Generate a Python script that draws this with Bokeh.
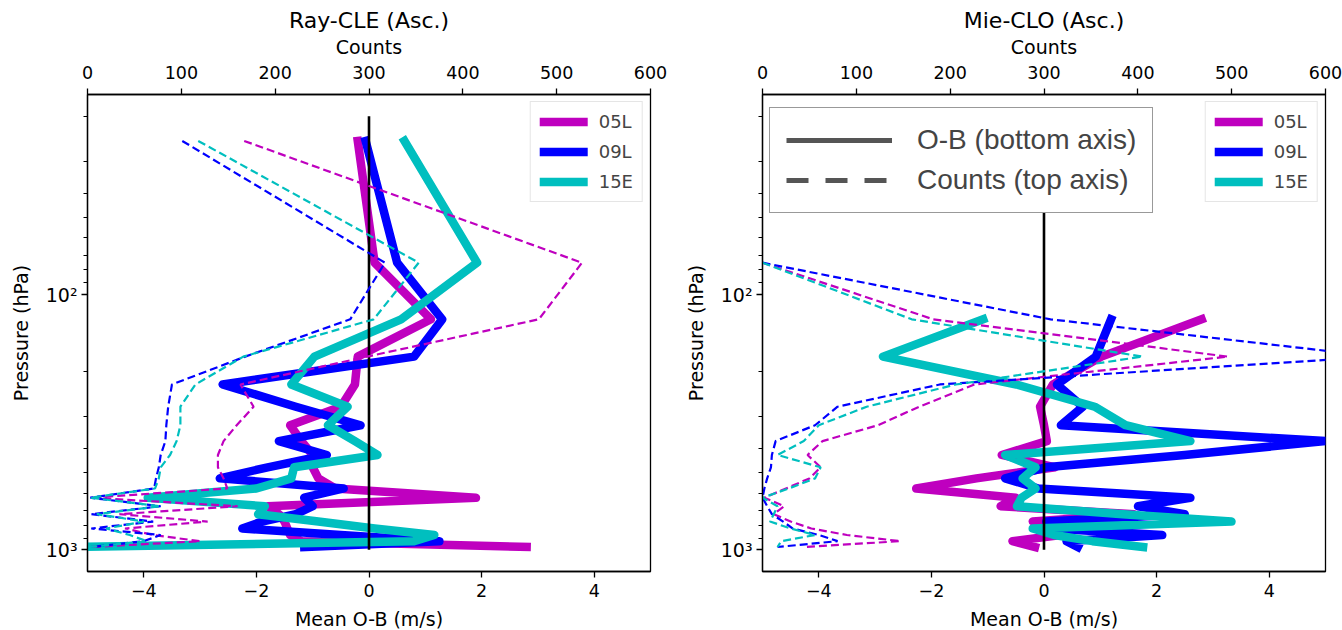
import math
from bokeh.plotting import figure
from bokeh.models import Range1d, LinearAxis, FixedTicker, Legend, LegendItem
from bokeh.layouts import row
from bokeh.embed import file_html
from bokeh.resources import INLINE

nan = float("nan")

# Pressure bin centres (hPa)
levels = [25, 75, 125, 175, 225, 275, 325, 375, 425, 475,
          525, 575, 625, 675, 725, 775, 825, 875, 925, 975]

storms = ["05L", "09L", "15E"]
storm_colors = ["#bf00bf", "#0000ff", "#00bfbf"]

# Ray-CLE (ascending): mean O-B (m/s) per level
ray_ob_05L = [-0.2, 0.1, 1.1, -0.2, -0.25, -0.5, -1.4, -1.2, -1.0, -1.0,
              -0.9, -0.6, 1.9, -1.8, -1.6, -1.5, -1.45, -1.4, -1.2, 2.8]
ray_ob_09L = [-0.06, 0.5, 1.3, 0.8, -2.6, -1.3, -0.15, -1.6, -0.75, -1.8,
              -2.65, -0.45, -1.15, -1.0, -1.3, -1.9, -2.25, -0.5, 1.25, -1.15]
ray_ob_15E = [0.63, 1.92, 0.57, -0.97, -1.38, -0.38, -0.73, -0.25, 0.15, -1.33,
              -1.38, -2.0, -3.93, -1.85, -1.97, -0.9, 0.1, 1.16, 0.8, -5.2]

# Ray-CLE (ascending): counts per level
ray_n_05L = [167, 527, 481, 298, 163, 177, 159, 145, 139, 139,
             145, 149, 3, 160, 34, 128, 40, 70, 120, 5]
ray_n_09L = [101, 317, 280, 168, 90, 86, 84, 83, 78, 76,
             73, 71, 3, 78, 4, 70, 4, 78, 60, 4]
ray_n_15E = [118, 353, 305, 166, 115, 99, 99, 95, 88, 78,
             76, 72, 3, 78, 10, 60, 20, 45, 63, 3]

# Mie-CLO (ascending): mean O-B (m/s) per level
mie_ob_05L = [nan, nan, 2.8, 1.02, 0.16, -0.07, 0.0, 0.05, -0.75, 0.2,
              -1.2, -2.27, -0.5, -0.77, 1.6, -0.2, 0.2, 0.3, -0.56, -0.16]
mie_ob_09L = [nan, nan, 1.19, 0.92, 0.23, 0.69, 0.3, 5.0, 2.5, 0.03,
              -0.69, -0.1, 2.6, 1.67, 2.5, 0.04, 0.1, 2.1, 0.4, 0.6]
mie_ob_15E = [nan, nan, -1.08, -2.86, -0.49, 0.9, 1.45, 2.6, -0.69, -0.15,
              -0.38, -0.15, -0.4, -0.48, 1.4, 3.33, -0.2, 0.18, 0.86, 1.76]

# Mie-CLO (ascending): counts per level
mie_n_05L = [nan, 0, 182, 496, 226, 167, 123, 64, 48, 62,
             50, 25, 2, 23, 12, 30, 52, 90, 147, 45]
mie_n_09L = [nan, 0, 307, 655, 189, 80, 56, 14, 10, 9,
             5, 2, 0, 5, 10, 22, 32, 60, 80, 16]
mie_n_15E = [nan, 0, 159, 405, 206, 111, 60, 44, 16, 62,
             56, 28, 0, 16, 12, 8, 30, 56, 20, 16]

# Zero O-B reference line
zero_ob = [0, 0]
zero_p = [20, 1000]

count_ticks = [0, 100, 200, 300, 400, 500, 600]
ob_ticks = [-4, -2, 0, 2, 4]
p_major = [100, 1000]
p_minor = [20, 30, 40, 50, 60, 70, 80, 90, 200, 300, 400, 500, 600, 700, 800, 900]

FONT = "DejaVu Sans"
TICK_PX = "17.5px"
LABEL_PX = "19px"


def style_axis(ax, minor=False):
    ax.axis_line_color = "black"
    ax.axis_line_width = 1.3
    ax.major_tick_line_color = "black"
    ax.major_tick_line_width = 1.3
    ax.major_tick_in = 0
    ax.major_tick_out = 6
    if minor:
        ax.minor_tick_line_color = "black"
        ax.minor_tick_line_width = 1
        ax.minor_tick_in = 0
        ax.minor_tick_out = 4
    else:
        ax.minor_tick_line_color = None
    ax.major_label_text_font = FONT
    ax.major_label_text_font_size = TICK_PX
    ax.major_label_text_color = "black"
    ax.axis_label_text_font = FONT
    ax.axis_label_text_font_size = LABEL_PX
    ax.axis_label_text_font_style = "normal"
    ax.axis_label_text_color = "black"
    ax.major_label_standoff = 4
    ax.axis_label_standoff = 7


def build(title, obs, counts, left, right, key_box):
    p = figure(frame_width=563, frame_height=477, y_axis_type="log",
               x_range=Range1d(-5, 5),
               y_range=Range1d(10 ** 3.085, 10 ** 1.216),
               output_backend="svg", toolbar_location=None,
               min_border_left=left, min_border_right=right,
               min_border_top=94, min_border_bottom=40,
               background_fill_color="white", border_fill_color="white")
    p.grid.visible = False
    p.outline_line_color = "black"
    p.outline_line_width = 1.3
    p.extra_x_ranges = {"counts": Range1d(0, 600)}

    p.title.text = title
    p.title.align = "center"
    p.title.text_font = FONT
    p.title.text_font_size = "22px"
    p.title.text_font_style = "normal"
    p.title.text_color = "black"
    p.title.standoff = 0

    xb = p.below[0]
    xb.ticker = FixedTicker(ticks=ob_ticks)
    xb.axis_label = "Mean O-B (m/s)"
    style_axis(xb)
    xb.major_label_standoff = 6
    xb.axis_label_standoff = 8

    top = LinearAxis(x_range_name="counts", axis_label="Counts",
                     ticker=FixedTicker(ticks=count_ticks))
    style_axis(top)
    top.major_label_standoff = 10
    top.axis_label_standoff = 5
    p.add_layout(top, "above")

    ya = p.left[0]
    ya.ticker = FixedTicker(ticks=p_major, minor_ticks=p_minor)
    ya.major_label_overrides = {100: "10²", 1000: "10³"}
    ya.axis_label = "Pressure (hPa)"
    style_axis(ya, minor=True)
    ya.major_label_text_font_size = "19px"
    ya.axis_label_standoff = 11

    # O-B profiles (solid, bottom axis)
    ob_renderers = []
    for ob, col in zip(obs, storm_colors):
        r = p.line(ob, levels, line_color=col, line_width=8.5,
                   line_join="round", line_cap="square")
        ob_renderers.append(r)

    p.line(zero_ob, zero_p, line_color="black", line_width=2.6)

    # Counts profiles (dashed, top axis)
    for n, col in zip(counts, storm_colors):
        p.line(n, levels, line_color=col, line_width=2.2,
               line_dash="8 4", x_range_name="counts")

    storm_key = Legend(
        items=[LegendItem(label=s, renderers=[r]) for s, r in zip(storms, ob_renderers)],
        location="top_right", margin=7, padding=9, spacing=9,
        glyph_width=48, glyph_height=21, label_standoff=11,
        label_text_font=FONT, label_text_font_size="18px",
        border_line_color="#cccccc", border_line_width=1,
        background_fill_color="white", background_fill_alpha=0.85)
    p.add_layout(storm_key, "center")

    if key_box:
        # line-style key (proxy renderers without visible data)
        solid = p.line([nan], [nan], line_color="#555555", line_width=5)
        dashed = p.line([nan], [nan], line_color="#555555", line_width=5,
                        line_dash="22 17")
        style_key = Legend(
            items=[LegendItem(label="O-B (bottom axis)", renderers=[solid]),
                   LegendItem(label="Counts (top axis)", renderers=[dashed])],
            location=(7, 358), margin=0, padding=16, spacing=8,
            glyph_width=106, glyph_height=28, label_standoff=25,
            label_text_font="Liberation Sans", label_text_font_size="28px",
            border_line_color="#333333", border_line_width=1.5,
            background_fill_color="white", background_fill_alpha=1.0)
        p.add_layout(style_key, "center")
    return p


left_panel = build("Ray-CLE (Asc.)",
                   [ray_ob_05L, ray_ob_09L, ray_ob_15E],
                   [ray_n_05L, ray_n_09L, ray_n_15E],
                   left=87, right=30, key_box=False)
right_panel = build("Mie-CLO (Asc.)",
                    [mie_ob_05L, mie_ob_09L, mie_ob_15E],
                    [mie_n_05L, mie_n_09L, mie_n_15E],
                    left=82, right=17, key_box=True)

layout = row(left_panel, right_panel)
open("out.html", "w").write(file_html(layout, INLINE))
